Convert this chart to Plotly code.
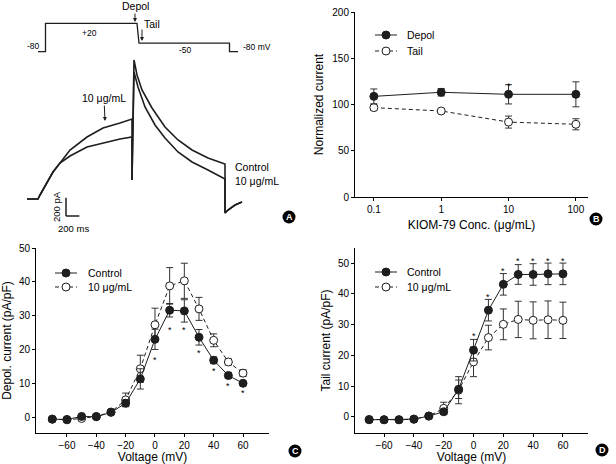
import plotly.graph_objects as go

W, H = 616, 464
FONT = "Liberation Sans, Arial, sans-serif"
BOLD = "Liberation Sans, Arial, sans-serif"
INK = "#1e1e1e"


def px(x):
    return x / W


def py(y):
    return 1 - y / H


# ---------------- Panel A: raw current traces (ms, pA) ----------------
ctrl_t = [0, 165, 195, 300, 390, 495, 645, 900, 1140, 1395, 1575, 1575, 1605,
          1650, 1725, 1875, 2070, 2265, 2475, 2715, 2970, 2970, 3015, 3120, 3225]
ctrl_i = [0, 0, 44, 176, 297, 396, 473, 572, 616, 660, 682, 209, 1529,
          1364, 1199, 1001, 792, 649, 539, 451, 385, -154, -121, -66, -33]
drug_t = [0, 165, 195, 300, 390, 495, 645, 900, 1140, 1395, 1575, 1575, 1605,
          1665, 1770, 1920, 2070, 2265, 2475, 2715, 2970, 2970, 3015, 3120, 3225]
drug_i = [0, 0, 44, 176, 297, 396, 539, 682, 781, 836, 880, 209, 1397,
          1232, 1012, 814, 671, 517, 407, 319, 220, -154, -121, -66, -33]
# voltage protocol (ms, mV)
prot_t = [165, 277.5, 277.5, 1650, 1680, 3037.5, 3037.5, 3165]
prot_mv = [-80, -80, 20, 20, -50, -50, -80, -80]
prot_labels = ["-80", "+20", "-50", "-80 mV"]

# ---------------- Panel B: concentration dependence ----------------
conc = [0.1, 1, 10, 100]
conc_ticks = ["0.1", "1", "10", "100"]
depol_norm = [108.8, 113.2, 111.0, 111.0]
depol_norm_err = [8.0, 4.0, 10.4, 13.5]
tail_norm = [96.6, 93.0, 81.0, 78.6]
tail_norm_err = [3.0, 1.5, 6.5, 6.0]
b_star_x = [1, 10, 100]
b_star_y = [123, 68.5, 66.7]

# ---------------- Panels C and D: I-V relations ----------------
voltage = [-70, -60, -50, -40, -30, -20, -10, 0, 10, 20, 30, 40, 50, 60]
volt_ticks = [-60, -40, -20, 0, 20, 40, 60]
depol_ctrl = [-0.6, -0.7, 0.2, 0.1, 1.4, 4.1, 11.3, 23.0, 31.6, 31.4, 23.6, 16.8, 12.3, 10.0]
depol_ctrl_err = [0.3, 0.3, 0.3, 0.3, 0.4, 1.0, 3.0, 3.0, 2.0, 3.3, 2.3, 1.0, 0.9, 0.5]
depol_drug = [-0.6, -0.8, -0.4, 0.2, 1.5, 5.1, 14.3, 27.3, 38.8, 40.3, 32.0, 22.7, 16.3, 13.0]
depol_drug_err = [0.3, 0.3, 0.3, 0.3, 0.5, 2.0, 4.0, 4.9, 5.4, 5.2, 3.4, 1.9, 0.9, 1.0]
c_star_x = [0, 10, 20, 30, 40, 50, 60]
c_star_y = [17.9, 26.5, 26.5, 19.7, 14.5, 10.0, 7.9]

tail_ctrl = [-0.9, -0.9, -0.9, -0.7, 0.3, 1.7, 9.0, 21.7, 34.7, 43.1, 46.3, 46.3, 46.5, 46.5]
tail_ctrl_err = [0.3, 0.3, 0.3, 0.3, 0.5, 0.8, 3.0, 3.5, 3.5, 3.5, 3.2, 3.5, 3.5, 3.5]
tail_drug = [-0.8, -0.9, -0.9, -0.7, 0.3, 2.8, 8.7, 17.9, 25.8, 30.1, 31.7, 31.4, 31.6, 31.4]
tail_drug_err = [0.3, 0.3, 0.3, 0.3, 0.5, 2.0, 4.4, 4.8, 4.0, 5.0, 5.9, 6.0, 6.1, 5.9]
d_star_x = [0, 10, 20, 30, 40, 50, 60]
d_star_y = [27.3, 40.1, 48.5, 51.7, 51.7, 51.7, 51.7]

fig = go.Figure()

# ---- Panel A traces
for tt, ii, nm in [(ctrl_t, ctrl_i, "Control"), (drug_t, drug_i, "10 μg/mL")]:
    fig.add_trace(go.Scatter(x=tt, y=ii, mode="lines", line=dict(color=INK, width=1.6),
                             xaxis="x2", yaxis="y2", name=nm))
fig.add_trace(go.Scatter(x=prot_t, y=prot_mv, mode="lines", line=dict(color=INK, width=1.3),
                         xaxis="x2", yaxis="y5", name="protocol"))


def series(x, y, err, filled, dash, xa, ya, name):
    return go.Scatter(
        x=x, y=y, mode="lines+markers", name=name, xaxis=xa, yaxis=ya,
        line=dict(color=INK, width=1, dash=dash),
        marker=dict(symbol="circle", size=8, color=INK if filled else "white",
                    line=dict(color=INK, width=1)),
        error_y=dict(type="data", array=err, visible=True, color="#333333",
                     thickness=1, width=3.5),
    )


fig.add_trace(series(conc, tail_norm, tail_norm_err, False, "4px,3px", "x", "y", "Tail"))
fig.add_trace(series(conc, depol_norm, depol_norm_err, True, "solid", "x", "y", "Depol"))
fig.add_trace(series(voltage, depol_drug, depol_drug_err, False, "4px,3px", "x3", "y3", "10 μg/mL"))
fig.add_trace(series(voltage, depol_ctrl, depol_ctrl_err, True, "solid", "x3", "y3", "Control"))
fig.add_trace(series(voltage, tail_drug, tail_drug_err, False, "4px,3px", "x4", "y4", "10 μg/mL"))
fig.add_trace(series(voltage, tail_ctrl, tail_ctrl_err, True, "solid", "x4", "y4", "Control"))

axis_common = dict(showline=True, linecolor="black", linewidth=1, ticks="outside",
                   ticklen=3, tickcolor="black", showgrid=False, zeroline=False,
                   automargin=False,
                   tickfont=dict(family=FONT, size=10, color="black"),
                   title_font=dict(family=FONT, size=12, color="black"))

fig.update_layout(
    width=W, height=H, margin=dict(l=0, r=0, t=0, b=0, autoexpand=False),
    paper_bgcolor="white", plot_bgcolor="white", showlegend=False,
    font=dict(family=FONT, size=10, color="black"),
    # Panel B
    xaxis=dict(axis_common, domain=[px(355), px(588)], anchor="y", type="log",
               range=[-1.28, 2.18], tickvals=conc, ticktext=conc_ticks,
               title=dict(text="KIOM-79 Conc. (μg/mL)", standoff=6)),
    yaxis=dict(axis_common, domain=[py(197), py(12)], anchor="x", range=[0, 200],
               tickvals=[0, 50, 100, 150, 200],
               title=dict(text="Normalized current", standoff=6)),
    # Panel A (hidden axes)
    xaxis2=dict(domain=[0, px(310)], anchor="y2", range=[-405, 4245], visible=False,
                automargin=False),
    yaxis2=dict(domain=[py(230), 1], anchor="x2", range=[-341, 2189], visible=False,
                automargin=False),
    yaxis5=dict(domain=[py(230), 1], anchor="x2", overlaying="y2",
                range=[-713.5, 102.9], visible=False, automargin=False),
    # Panel C
    xaxis3=dict(axis_common, domain=[px(36), px(269)], anchor="y3", range=[-81.1, 77.7],
                tickvals=volt_ticks, title=dict(text="Voltage (mV)", standoff=6)),
    yaxis3=dict(axis_common, domain=[py(433), py(248)], anchor="x3", range=[-4.7, 50],
                tickvals=[0, 10, 20, 30, 40, 50],
                title=dict(text="Depol. current (pA/pF)", standoff=9)),
    # Panel D
    xaxis4=dict(axis_common, domain=[px(355), px(588)], anchor="y4", range=[-79.5, 76.8],
                tickvals=volt_ticks, title=dict(text="Voltage (mV)", standoff=6)),
    yaxis4=dict(axis_common, domain=[py(433), py(248)], anchor="x4", range=[-5.2, 54.9],
                tickvals=[0, 10, 20, 30, 40, 50],
                title=dict(text="Tail current (pA/pF)", standoff=4)),
)

shapes = []
ann = []

# scale bar in panel A (200 ms, 200 pA)
bar_t0, bar_i0 = 585, -187
shapes.append(dict(type="line", xref="x2", yref="y2", x0=bar_t0, x1=bar_t0,
                   y0=bar_i0, y1=bar_i0 + 200, line=dict(color=INK, width=1.5)))
shapes.append(dict(type="line", xref="x2", yref="y2", x0=bar_t0, x1=bar_t0 + 200,
                   y0=bar_i0, y1=bar_i0, line=dict(color=INK, width=1.5)))


def txt(x, y, s, size=10.5, anchor="center", angle=0, color="black", fam=FONT, **kw):
    d = dict(xref="paper", yref="paper", x=px(x), y=py(y), text=s, showarrow=False,
             xanchor=anchor, yanchor="middle", textangle=angle,
             font=dict(family=fam, size=size, color=color))
    d.update(kw)
    return d


ann.append(txt(57, 207, "200 pA", size=9.5, angle=-90))
ann.append(txt(73, 228, "200 ms", size=9.5))
# protocol labels
ann.append(txt(33, 46, prot_labels[0], size=8.5))
ann.append(txt(89, 33, prot_labels[1], size=8.5))
ann.append(txt(185, 50, prot_labels[2], size=8.5))
ann.append(txt(241, 47, prot_labels[3], size=8.5, anchor="left"))
# arrows
ann.append(dict(xref="paper", yref="paper", x=px(135), y=py(22), text="Depol",
                showarrow=True, ax=0, ay=-16, arrowhead=2, arrowsize=0.8, arrowwidth=1,
                arrowcolor=INK, font=dict(family=FONT, size=10.5, color="black")))
ann.append(dict(xref="paper", yref="paper", x=px(142), y=py(41), text="",
                showarrow=True, ax=0, ay=-13, arrowhead=2, arrowsize=0.8, arrowwidth=1,
                arrowcolor=INK))
ann.append(txt(152, 24, "Tail"))
ann.append(dict(xref="paper", yref="paper", x=px(105), y=py(121), text="10 μg/mL",
                showarrow=True, ax=-1, ay=-23, arrowhead=2, arrowsize=0.8, arrowwidth=1,
                arrowcolor=INK, font=dict(family=FONT, size=10.5, color="black")))
ann.append(txt(233, 167, "Control", anchor="left"))
ann.append(txt(233, 181, "10 μg/mL", anchor="left"))

# significance asterisks
for xs, ys, xr, yr in [(b_star_x, b_star_y, "x", "y"), (c_star_x, c_star_y, "x3", "y3"),
                       (d_star_x, d_star_y, "x4", "y4")]:
    for xv, yv in zip(xs, ys):
        ann.append(dict(xref=xr, yref=yr, x=xv, y=yv, text="*", showarrow=False,
                        yshift=-3, font=dict(family=BOLD, size=9, color="black")))


# legends
def legend(x0, x1, y, filled, dash, label, tx):
    shapes.append(dict(type="line", xref="paper", yref="paper", x0=px(x0), x1=px(x1),
                       y0=py(y), y1=py(y), line=dict(color=INK, width=1, dash=dash)))
    cx = (x0 + x1) / 2
    shapes.append(dict(type="circle", xref="paper", yref="paper", xsizemode="pixel",
                       ysizemode="pixel", xanchor=px(cx), yanchor=py(y), x0=-4, x1=4,
                       y0=-4, y1=4, fillcolor=INK if filled else "white",
                       line=dict(color=INK, width=1)))
    ann.append(txt(tx, y, label, anchor="left"))


legend(375, 397, 35, True, "solid", "Depol", 405)
legend(375, 397, 51, False, "4px,3px", "Tail", 405)
legend(55, 77, 273, True, "solid", "Control", 86)
legend(55, 77, 287, False, "4px,3px", "10 μg/mL", 86)
legend(375, 397, 272, True, "solid", "Control", 405)
legend(375, 397, 287, False, "4px,3px", "10 μg/mL", 405)

# panel badges
for letter, cx, cy in [("A", 289, 217), ("B", 596, 219), ("C", 295, 451), ("D", 602, 450)]:
    shapes.append(dict(type="circle", xref="paper", yref="paper", xsizemode="pixel",
                       ysizemode="pixel", xanchor=px(cx), yanchor=py(cy), x0=-6.5, x1=6.5,
                       y0=-6.5, y1=6.5, fillcolor="black", line=dict(color="black", width=0)))
    ann.append(txt(cx, cy, "<b>%s</b>" % letter, size=9, color="white", fam=BOLD))

fig.update_layout(shapes=shapes, annotations=ann)
fig.write_html("out.html", config={"displayModeBar": False},
               post_script="document.body.style.margin='0px';"
                           "document.body.style.overflow='hidden';")
